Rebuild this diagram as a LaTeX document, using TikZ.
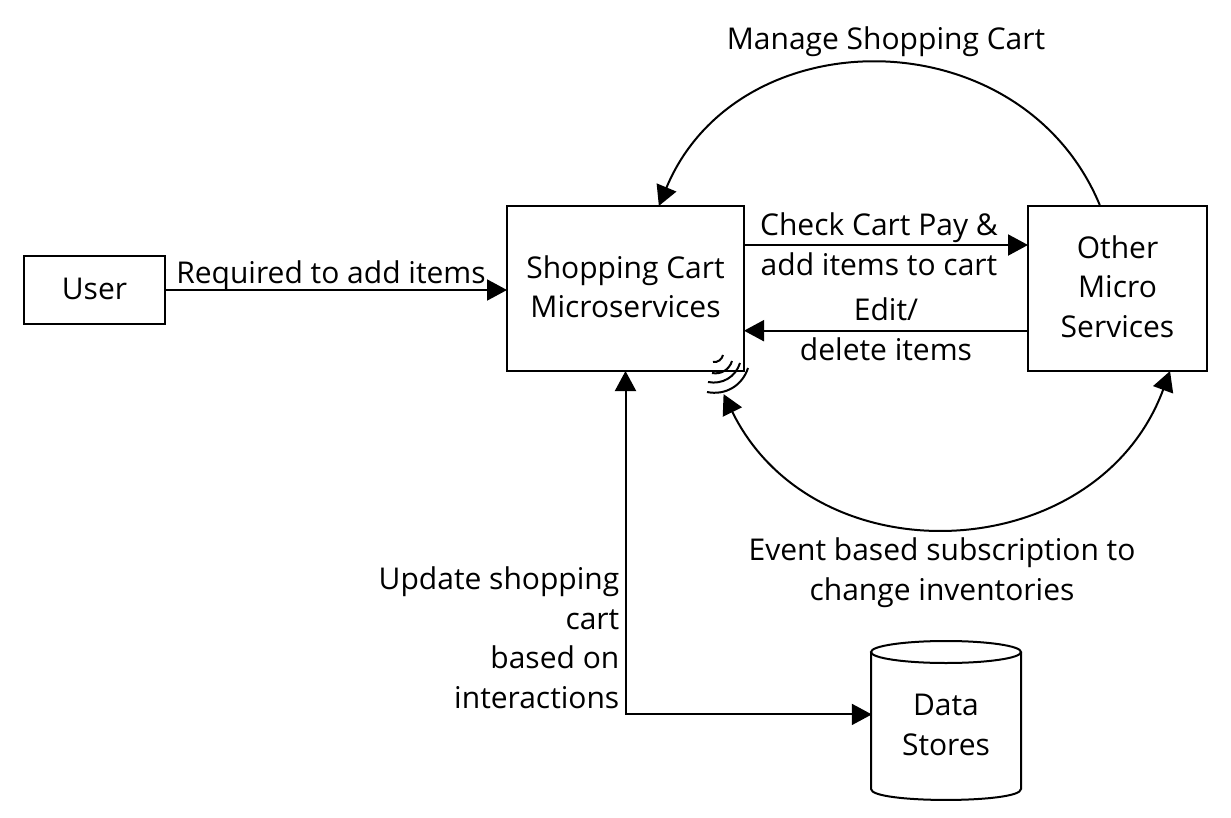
\documentclass[tikz,border=0pt]{standalone}
\usepackage{fontspec}
\setmainfont{Open Sans}
\usetikzlibrary{arrows.meta}
\newcommand{\lift}[1]{\rule[-#1]{0pt}{0pt}}
\tikzstyle{box}=[draw,line width=2pt,align=center,inner sep=0pt]
\tikzstyle{lbl}=[align=center,inner sep=0pt]
\tikzstyle{flow}=[line width=2pt,shorten >=-1pt,-{Triangle[length=20pt,width=21pt]}]
\tikzstyle{biflow}=[line width=2pt,shorten >=-1pt,shorten <=-1pt,{Triangle[length=20pt,width=21pt]}-{Triangle[length=20pt,width=21pt]}]
\tikzstyle{wave}=[line width=2pt]

\begin{document}
\begin{tikzpicture}[x=1pt,y=-1pt,font=\fontsize{30}{39.5}\selectfont]
          \useasboundingbox (0,0) rectangle (1231,818);

          \node[box,minimum width=141pt,minimum height=68pt] (user) at (94.5,290) {User\lift{2pt}};
          \node[box,minimum width=237pt,minimum height=165pt] (cart) at (625.5,288.5) {Shopping Cart\\Microservices\lift{4pt}};
          \node[box,minimum width=179pt,minimum height=165pt] (other) at (1117.5,288.5) {Other\\Micro\\Services\lift{4pt}};
          \node[lbl,minimum width=150pt,minimum height=150pt] (store) at (946,725) {Data\\Stores};
          \coordinate (waveend) at (724,395);

          \draw[wave] (946,652) ellipse[x radius=75pt,y radius=11pt];
          \draw[wave] (871,652)--(871,789) .. controls (871,803.6) and (1021,803.6) .. (1021,789)--(1021,652);

          \draw[flow] (user.east)--(user.east -| cart.west);
          \draw[flow] (cart.20.6)--(cart.20.6 -| other.west);
          \draw[flow] (other.205.1)--(other.205.1 -| cart.east);
          \draw[biflow] (cart.south) |- (store.172.8);
          \draw[flow] (other.102) to[out=112.6,in=67.4,looseness=1.19] (cart.68.5);
          \draw[biflow] (other.-58.6) to[out=-110.3,in=-63.8,looseness=1.19] (waveend);

          \draw[wave] (707,392) to[bend right=42] (748,368);
          \draw[wave] (708,382) to[bend right=42] (740,363);
          \draw[wave] (712,373) to[bend right=42] (732,361);
          \draw[wave] (713,362) to[bend right=42] (723,355);

          \node[lbl] (manage) at (886,42) {Manage Shopping Cart};
          \node[lbl] (required) at (331,276) {Required to add items};
          \node[lbl] (check) at (879,244.5) {Check Cart Pay \&\\add items to cart};
          \node[lbl] (edit) at (886,329) {Edit/\\delete items};
          \node[lbl] (event) at (942,572.5) {Event based subscription to\\change inventories};
          \node[lbl,align=right,anchor=east] (update) at (619.5,637.5) {Update shopping\\cart\\based on\\interactions};
        \end{tikzpicture}
\end{document}
